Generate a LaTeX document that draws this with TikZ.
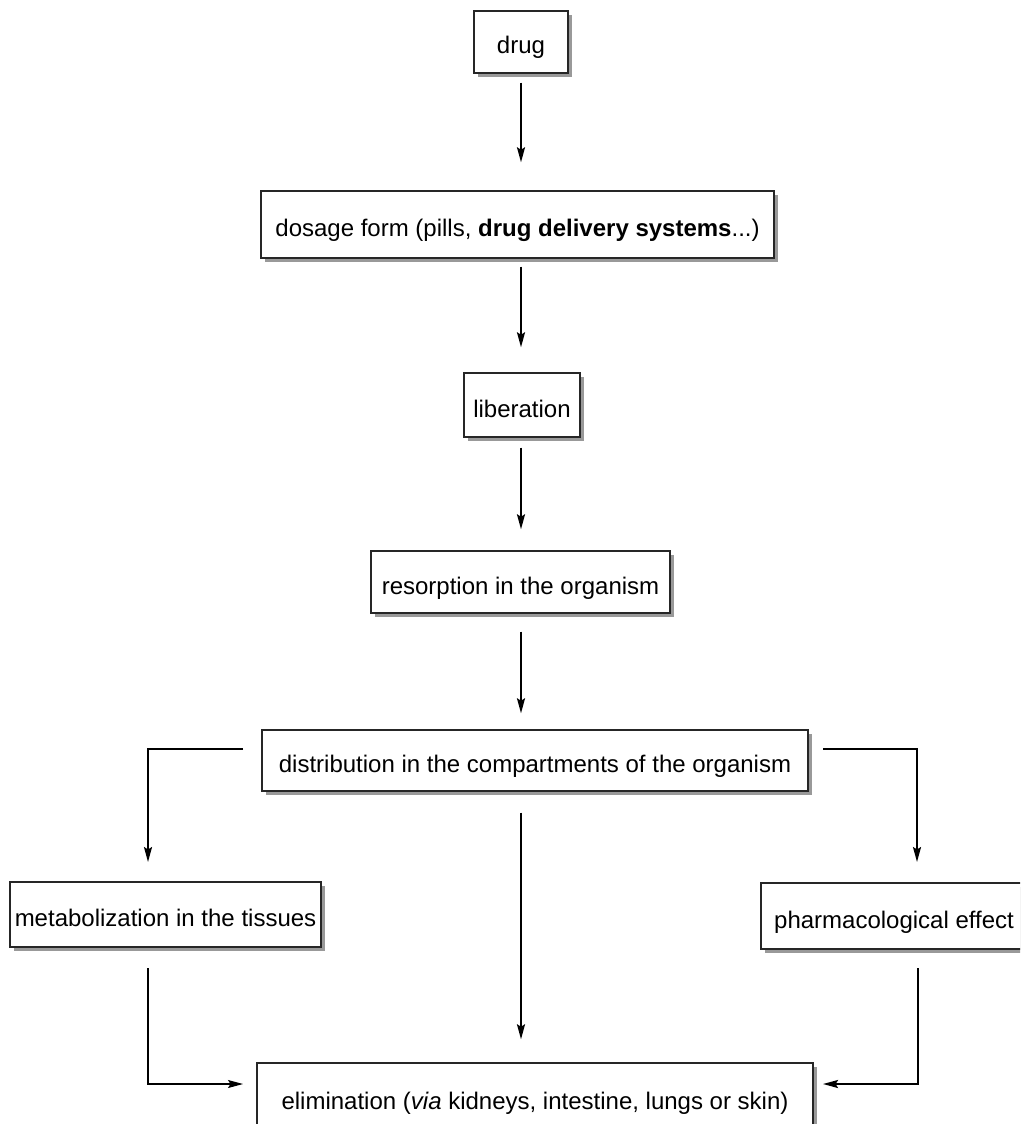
\documentclass[tikz,border=0pt]{standalone}
\usepackage{fontspec}
\setmainfont{Liberation Sans}
\usetikzlibrary{arrows.meta,shadows}
\begin{document}
\begin{tikzpicture}[x=1pt,y=-1pt,
  box/.style={draw=black!85,line width=1.4pt,fill=white,inner sep=0pt,
    font=\fontsize{24}{28}\selectfont,text height=29pt,text depth=5pt,
    drop shadow={shadow xshift=4pt,shadow yshift=-4pt,fill=black!40,opacity=1}},
  arr/.style={line width=2pt,-{Stealth[length=15pt,width=8pt,inset=2.5pt]}},
  thinarr/.style={line width=1.1pt,-{Stealth[length=15pt,width=8pt,inset=2.5pt]}}]
\clip (0,0) rectangle (1020,1124);
\fill[white] (0,0) rectangle (1020,1124);
% boxes
\node[box,minimum width=94pt,minimum height=62pt] (drug) at (521,42) {drug};
\node[box,minimum width=513pt,minimum height=67pt] (dosage) at (517.5,224.5) {dosage form (pills, \textbf{drug delivery systems}...)};
\node[box,minimum width=116pt,minimum height=64pt] (lib) at (522,405) {liberation};
\node[box,minimum width=299pt,minimum height=62pt] (res) at (520.5,582) {resorption in the organism};
\node[box,minimum width=546pt,minimum height=61pt] (dist) at (535,760.5) {distribution in the compartments of the organism\hspace{6pt}};
\node[box,minimum width=311pt,minimum height=65pt] (met) at (165.5,914.5) {metabolization in the tissues};
\node[box,minimum width=266pt,minimum height=66pt] (pha) at (894,916) {pharmacological effect};
\node[box,minimum width=556pt,minimum height=68pt] (eli) at (535,1097) {elimination (\textit{via} kidneys, intestine, lungs or skin)};
% free ends
\coordinate (dl) at (243,749);
\coordinate (dr) at (823,749);
\coordinate (mtop) at (148,862);
\coordinate (ptop) at (917,862);
\coordinate (mbot) at (148,968);
\coordinate (pbot) at (918,968);
\coordinate (el) at (243,1084);
\coordinate (er) at (823,1084);
% connectors
\draw[arr,shorten <=9pt,shorten >=28pt] (drug.south) -- (drug.south |- dosage.north);
\draw[arr,shorten <=8pt,shorten >=25pt] (drug.south |- dosage.south) -- (drug.south |- lib.north);
\draw[arr,shorten <=10pt,shorten >=21pt] (drug.south |- lib.south) -- (drug.south |- res.north);
\draw[arr,shorten <=18pt,shorten >=16pt] (drug.south |- res.south) -- (drug.south |- dist.north);
\draw[arr,shorten <=21pt,shorten >=23pt] (drug.south |- dist.south) -- (drug.south |- eli.north);
\draw[arr] (dl) -| (mtop);
\draw[arr] (dr) -| (ptop);
\draw[thinarr] (mbot) |- (el);
\draw[arr] (pbot) |- (er);
\end{tikzpicture}
\end{document}
